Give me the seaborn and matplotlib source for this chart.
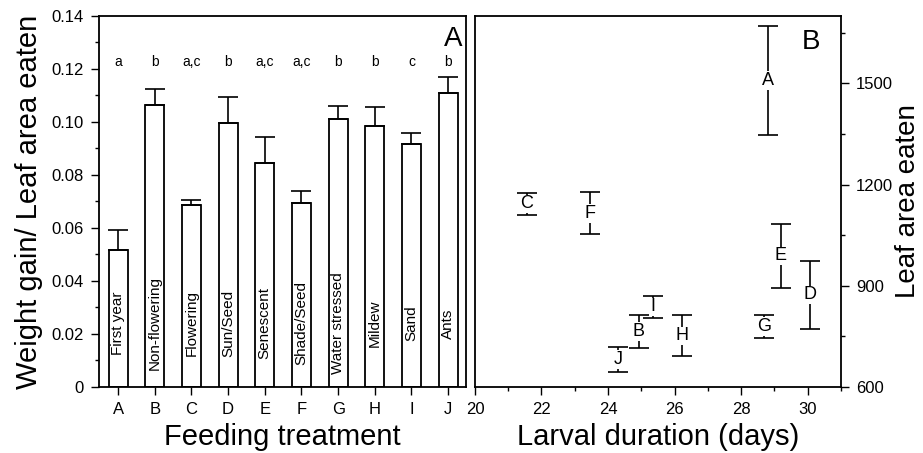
import matplotlib
matplotlib.use("Agg")
import matplotlib.pyplot as plt
import seaborn as sns
import numpy as np
import pandas as pd
from matplotlib.ticker import MultipleLocator

# ---- data ----
codes = ["A", "B", "C", "D", "E", "F", "G", "H", "I", "J"]
treatments = ["First year", "Non-flowering", "Flowering", "Sun/Seed", "Senescent",
              "Shade/Seed", "Water stressed", "Mildew", "Sand", "Ants"]
ratio = [0.0517, 0.1064, 0.0688, 0.0997, 0.0847, 0.0693, 0.1011, 0.0986, 0.0917, 0.1111]
ratio_se = [0.0075, 0.0061, 0.0018, 0.0099, 0.0098, 0.0045, 0.0051, 0.0071, 0.0040, 0.0060]
signif = ["a", "b", "a,c", "b", "a,c", "a,c", "b", "b", "c", "b"]

duration = [28.82, 24.92, 21.55, 30.07, 29.20, 23.45, 28.69, 26.22, 25.35, 24.30]
leaf_area = [1509, 765, 1143, 873, 989, 1115, 780, 752, 838, 682]
leaf_se = [162, 48, 33, 101, 94, 62, 34, 61, 32, 38]

sns.set_style("ticks")
plt.rcParams['font.family'] = ['Liberation Sans', 'DejaVu Sans']
plt.rcParams.update({"text.color": "black", "axes.labelcolor": "black",
                     "xtick.color": "black", "ytick.color": "black",
                     "axes.edgecolor": "black"})

fig = plt.figure(figsize=(9.23, 4.53), dpi=100)
axA = fig.add_axes([0.1073, 0.1457, 0.3977, 0.819])
axB = fig.add_axes([0.5146, 0.1457, 0.3964, 0.819])

df = pd.DataFrame({"code": codes, "ratio": ratio})
sns.barplot(data=df, x="code", y="ratio", ax=axA, color="white", edgecolor="black",
            linewidth=1.3, width=0.52, errorbar=None, saturation=1)
xs = np.arange(len(codes))
axA.errorbar(xs, ratio, yerr=[np.zeros(len(ratio)), ratio_se], fmt="none",
             ecolor="black", elinewidth=1.2, capsize=7, capthick=1.2)
for x, t, s in zip(xs, treatments, signif):
    axA.text(x, 0.024, t, rotation=90, ha="center", va="center", fontsize=11)
    axA.text(x, 0.1228, s, ha="center", va="center", fontsize=10)
axA.text(0.99, 0.938, "A", transform=axA.transAxes, ha="right", va="center", fontsize=20)
axA.set_xlim(-0.52, 9.49)
axA.set_ylim(0, 0.14)
axA.yaxis.set_minor_locator(MultipleLocator(0.01))
axA.set_yticks(np.arange(0, 0.141, 0.02))
axA.set_yticklabels(["0"] + [f"{v:.2f}" for v in np.arange(0.02, 0.141, 0.02)])
axA.set_xlabel("Feeding treatment", fontsize=21, labelpad=4)
axA.set_ylabel("Weight gain/ Leaf area eaten", fontsize=21, labelpad=6)
axA.tick_params(axis="both", labelsize=12, direction="out", length=6, width=1, pad=5)
axA.tick_params(axis="y", which="minor", length=3, width=1)
for sp in axA.spines.values():
    sp.set_visible(True)
    sp.set_linewidth(1.3)
    sp.set_color("black")

# ---- panel B ----
axB.errorbar(duration, leaf_area, yerr=leaf_se, fmt="none", ecolor="black",
             elinewidth=1.2, capsize=7, capthick=1.2)
for x, y, c in zip(duration, leaf_area, codes):
    axB.text(x, y, c, ha="center", va="center", fontsize=13,
             bbox=dict(facecolor="white", edgecolor="none", pad=0.5))
axB.text(0.943, 0.93, "B", transform=axB.transAxes, ha="right", va="center", fontsize=20)
axB.set_xlim(20, 31)
axB.set_ylim(600, 1700)
axB.xaxis.set_major_locator(MultipleLocator(2))
axB.xaxis.set_minor_locator(MultipleLocator(1))
axB.yaxis.set_major_locator(MultipleLocator(300))
axB.yaxis.set_minor_locator(MultipleLocator(150))
axB.yaxis.tick_right()
axB.yaxis.set_label_position("right")
axB.set_xlabel("Larval duration (days)", fontsize=21, labelpad=4)
axB.set_ylabel("Leaf area eaten", fontsize=20, labelpad=1)
axB.tick_params(axis="both", labelsize=12, direction="out", length=6, width=1, pad=5)
axB.tick_params(axis="both", which="minor", length=3, width=1)
for sp in axB.spines.values():
    sp.set_visible(True)
    sp.set_linewidth(1.3)
    sp.set_color("black")

fig.savefig("out.png", dpi=100)
